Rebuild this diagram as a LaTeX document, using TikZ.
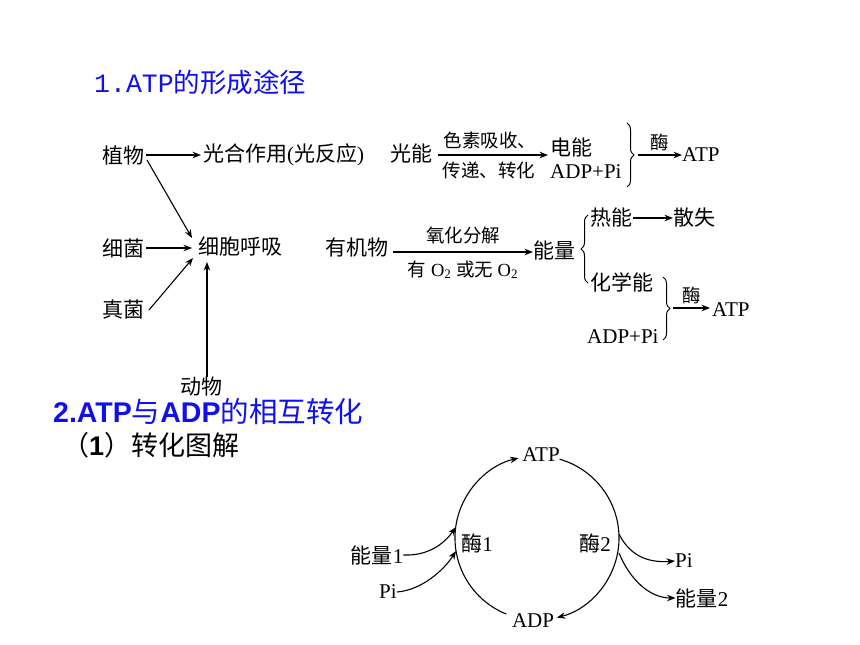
\documentclass[tikz,border=0pt]{standalone}
\usepackage{fontspec}
\setmainfont{Liberation Serif}
\newfontfamily\cjk{Noto Sans CJK SC}
\newfontfamily\arialf{Liberation Sans}
\newfontfamily\monof{Liberation Mono}
\usetikzlibrary{arrows.meta,decorations.pathreplacing}
\definecolor{ttblue}{RGB}{15,15,240}
\tikzset{
  lbl/.style={inner sep=0pt, font=\fontsize{21}{21}\selectfont},
  small/.style={inner sep=0pt, font=\fontsize{18.5}{18.5}\selectfont},
  arr/.style={line width=1.1pt, -{Stealth[length=8.5pt,width=6.5pt]}},
  brc/.style={line width=1pt, decorate, decoration={brace, amplitude=7pt}},
}
\begin{document}
\begin{tikzpicture}[x=1pt,y=-1pt]
\useasboundingbox (0,0) rectangle (860,645);

% titles
\node[anchor=west, inner sep=0pt, text=ttblue, font=\fontsize{26.5}{26.5}\selectfont] (t1) at (94,82) {\monof 1.ATP\cjk 的形成途径};
\node[anchor=west, inner sep=0pt, text=ttblue, font=\fontsize{28.5}{28.5}\selectfont] (t2) at (53,412) {\arialf\bfseries 2.ATP{\cjk\mdseries 与}ADP{\cjk\mdseries 的相互转化}};
\node[anchor=west, inner sep=0pt, font=\fontsize{27}{27}\selectfont] (t3) at (62,445) {\cjk （{\arialf\bfseries 1}）转化图解};

% --- section 1, left part
\node[lbl, anchor=west] (zhiwu) at (102,155) {\cjk 植物};
\node[lbl, anchor=west] (guanghe) at (203,155) {\cjk 光合作用\rmfamily(\cjk 光反应\rmfamily)};
\node[lbl, anchor=west] (xijun) at (102,248) {\cjk 细菌};
\node[lbl, anchor=west] (zhenjun) at (102,310) {\cjk 真菌};
\node[lbl, anchor=west] (huxi) at (198,247) {\cjk 细胞呼吸};
\node[lbl] (dongwu) at (201,387) {\cjk 动物};

\coordinate (zw1) at (146,155);
\coordinate (gh1) at (201,155);
\coordinate (zw2) at (147,160);
\coordinate (hx1) at (192,238);
\coordinate (xj1) at (146,248);
\coordinate (hx2) at (192,248);
\coordinate (zj1) at (149,310);
\coordinate (hx3) at (193,258);
\coordinate (dw1) at (207,377);
\coordinate (hx4) at (207,262);
\draw[arr] (zw1) -- (gh1);
\draw[arr] (zw2) -- (hx1);
\draw[arr] (xj1) -- (hx2);
\draw[arr] (zj1) -- (hx3);
\draw[arr] (dw1) -- (hx4);

% --- light reaction row
\node[lbl, anchor=west] (guangneng) at (390,153) {\cjk 光能};
\node[lbl, anchor=west] (dianneng) at (550,147) {\cjk 电能};
\node[lbl, anchor=west] (adp1) at (550,172) {ADP+Pi};
\coordinate (gn1) at (438,155);
\coordinate (dn1) at (548,155);
\draw[arr] (gn1) -- node[small, above=5pt, xshift=-3pt] (sesu) {\cjk 色素吸收、} node[small, below=6pt, xshift=-4pt] (chuandi) {\cjk 传递、转化} (dn1);
\draw[brc] (627,123) -- (627,187);
\coordinate (b1) at (638,155);
\node[lbl, anchor=west] (atp1) at (682,155) {ATP};
\draw[arr] (b1) -- node[small, above=4pt] (mei1) {\cjk 酶} (atp1.west);

% --- respiration row
\node[lbl, anchor=west] (youjiwu) at (325,248) {\cjk 有机物};
\node[lbl, anchor=west] (nengliang) at (533,250) {\cjk 能量};
\coordinate (yj1) at (393,252);
\coordinate (nl1) at (533,252);
\draw[arr] (yj1) -- node[small, above=7pt] (yanghua) {\cjk 氧化分解} node[small, below=8pt] (youo2) {{\cjk 有} O\textsubscript{2} {\cjk 或无} O\textsubscript{2}} (nl1);
\draw[brc] (588,283) -- (588,215);
\node[lbl, anchor=west] (reneng) at (590,218) {\cjk 热能};
\node[lbl, anchor=west] (sanshi) at (673,218) {\cjk 散失};
\coordinate (rn1) at (633,218);
\draw[arr] (rn1) -- (sanshi.west);
\node[lbl, anchor=west] (huaxue) at (590,282) {\cjk 化学能};
\node[lbl, anchor=west] (adp2) at (587,337) {ADP+Pi};
\draw[brc] (663,277) -- (663,340);
\coordinate (b2) at (673,308);
\coordinate (b2e) at (710,308);
\node[lbl, anchor=west] (atp2) at (712,310) {ATP};
\draw[arr] (b2) -- node[small, above=4pt] (mei2) {\cjk 酶} (b2e);

% --- section 2 cycle
\coordinate (cc) at (537,538);
\node[lbl] (atpc) at (541,455) {ATP};
\node[lbl] (adpc) at (533,621) {ADP};
\node[lbl] (meiA) at (477,543) {{\cjk 酶}1};
\node[lbl] (meiB) at (595,543) {{\cjk 酶}2};
\node[lbl] (nl1c) at (377,555) {{\cjk 能量}1};
\node[lbl] (pil) at (388,592) {Pi};
\node[lbl] (pir) at (684,561) {Pi};
\node[lbl] (nl2c) at (702,598) {{\cjk 能量}2};

\draw[arr] (cc) ++(112:82) arc[start angle=112, end angle=257, radius=82];
\draw[arr] (cc) ++(-74:82) arc[start angle=-74, end angle=76, radius=82];

\coordinate (a1) at (456,527);
\coordinate (a2) at (456,551);
\coordinate (a3) at (619,534);
\coordinate (a4) at (619,553);
\draw[arr] (nl1c.east) .. controls (428,556) and (444,544) .. (a1);
\draw[arr] (pil.east) .. controls (422,590) and (444,570) .. (a2);
\draw[arr] (a3) .. controls (630,556) and (648,563) .. (pir.west);
\draw[arr] (a4) .. controls (630,580) and (650,598) .. (nl2c.west);
\end{tikzpicture}
\end{document}
